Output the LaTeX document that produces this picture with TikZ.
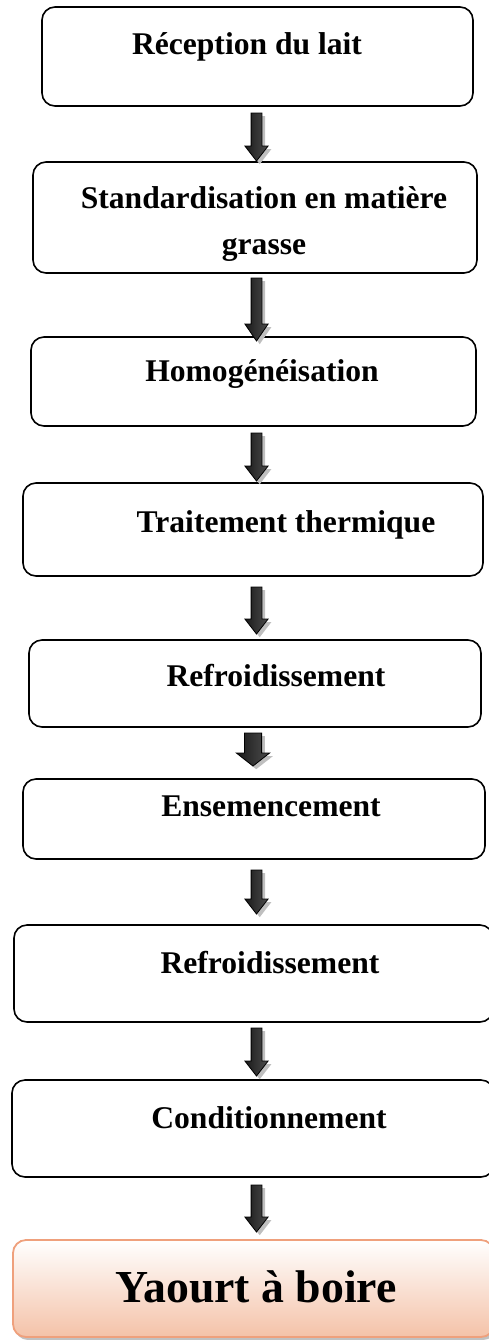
\documentclass[tikz,border=0pt]{standalone}
\usepackage{fontspec}
\setmainfont{Liberation Serif}
\usetikzlibrary{calc,shadows}
\definecolor{peach}{HTML}{F4C2A8}
\definecolor{peachline}{HTML}{EFA07C}
\tikzset{
  stepbox/.style={draw=black, line width=0.8pt, rounded corners=6.5pt, inner sep=0pt},
  finalbox/.style={draw=peachline, line width=0.9pt, rounded corners=6.5pt, inner sep=0pt,
     top color=white, bottom color=peach,
     drop shadow={shadow xshift=1pt, shadow yshift=-1.5pt, fill=gray!70, opacity=.7}},
  steptext/.style={anchor=base, inner sep=0pt, font=\bfseries\fontsize{15.8pt}{23pt}\selectfont, align=center},
  bigtext/.style={anchor=base, inner sep=0pt, font=\bfseries\fontsize{22.9pt}{27pt}\selectfont},
  arrowbody/.style={preaction={fill=gray!50, transform canvas={shift={(1.6pt,-1.6pt)}}},
     left color=black!90, middle color=gray!45, right color=black!70, draw=black, line width=0.4pt},
}
\newcommand\blockarrow[5]{%
  \path[arrowbody] let \p1=(#1), \p2=(#2) in
   (\x1-#3,\y1) -- (\x1+#3,\y1) -- (\x1+#3,\y2+#5) -- (\x1+#4,\y2+#5) -- (\x2,\y2)
   -- (\x1-#4,\y2+#5) -- (\x1-#3,\y2+#5) -- cycle;}
\begin{document}
\begin{tikzpicture}[x=0.5pt,y=-0.5pt]
\useasboundingbox (0,0) rectangle (488,1340);
% boxes
\node[stepbox, minimum width=215.5pt, minimum height=49.5pt] (b1) at (257.5,56.5) {};
\node[stepbox, minimum width=222pt, minimum height=55.5pt] (b2) at (255,217.5) {};
\node[stepbox, minimum width=222.5pt, minimum height=44.5pt] (b3) at (253.5,381.5) {};
\node[stepbox, minimum width=230pt, minimum height=46.5pt] (b4) at (253,529.5) {};
\node[stepbox, minimum width=226pt, minimum height=43.5pt] (b5) at (255,683.5) {};
\node[stepbox, minimum width=231pt, minimum height=40pt] (b6) at (254,819) {};
\node[stepbox, minimum width=239.5pt, minimum height=48.5pt] (b7) at (253.5,973.5) {};
\node[stepbox, minimum width=241pt, minimum height=48.5pt] (b8) at (253,1128.5) {};
\node[finalbox, minimum width=240.5pt, minimum height=48.5pt] (b9) at (253.5,1288.5) {};
% texts
\node[steptext] (t1) at (247,54) {Réception du lait};
\node[steptext] (t2) at (264,254) {Standardisation en matière\\grasse};
\node[steptext] (t3) at (262,381) {Homogénéisation};
\node[steptext] (t4) at (286,532) {Traitement thermique};
\node[steptext] (t5) at (276,686) {Refroidissement};
\node[steptext] (t6) at (271,816) {Ensemencement};
\node[steptext] (t7) at (270,973) {Refroidissement};
\node[steptext] (t8) at (269,1128) {Conditionnement};
\node[bigtext] (t9) at (256,1302) {Yaourt à boire};
% arrow end points
\coordinate (a1s) at (256.5,113);  \coordinate (a1e) at (256.5,161);
\coordinate (a2s) at (256.5,278);  \coordinate (a2e) at (256.5,341);
\coordinate (a3s) at (256.5,433);  \coordinate (a3e) at (256.5,481);
\coordinate (a4s) at (256.5,587);  \coordinate (a4e) at (256.5,634);
\coordinate (a5s) at (253,733);  \coordinate (a5e) at (253,766);
\coordinate (a6s) at (256.5,870);  \coordinate (a6e) at (256.5,914);
\coordinate (a7s) at (256.5,1028); \coordinate (a7e) at (256.5,1076);
\coordinate (a8s) at (256.5,1185); \coordinate (a8e) at (256.5,1232);
\blockarrow{a1s}{a1e}{2.7pt}{5.8pt}{7.5pt}
\blockarrow{a2s}{a2e}{2.7pt}{5.8pt}{8.5pt}
\blockarrow{a3s}{a3e}{2.7pt}{5.8pt}{7.5pt}
\blockarrow{a4s}{a4e}{2.7pt}{5.8pt}{7.5pt}
\blockarrow{a5s}{a5e}{4.3pt}{8.3pt}{6.5pt}
\blockarrow{a6s}{a6e}{2.7pt}{5.8pt}{7.5pt}
\blockarrow{a7s}{a7e}{2.7pt}{5.8pt}{7.5pt}
\blockarrow{a8s}{a8e}{2.7pt}{5.8pt}{7.5pt}
\end{tikzpicture}
\end{document}
